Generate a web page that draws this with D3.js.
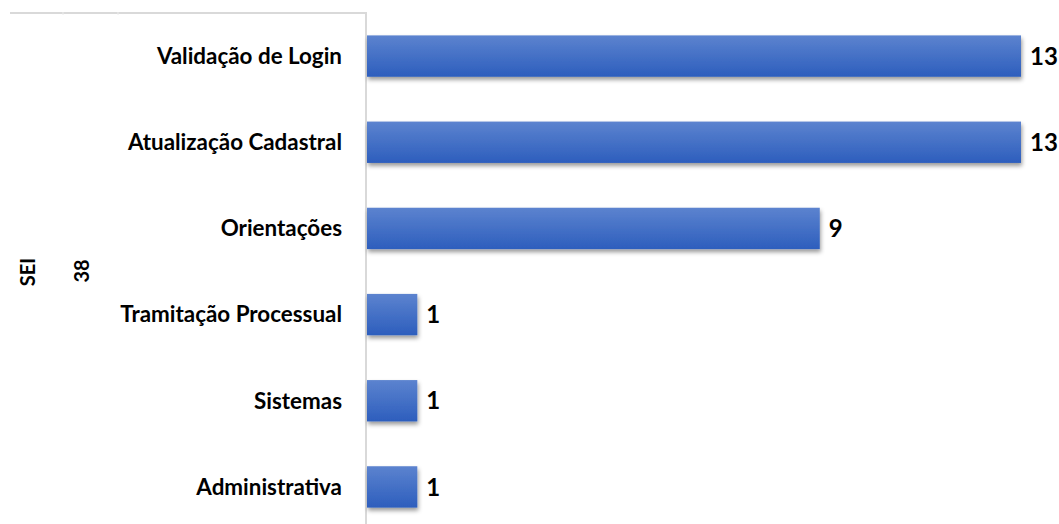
<!DOCTYPE html>
<html>
<head>
<meta charset="utf-8">
<script src="https://cdn.jsdelivr.net/npm/d3@7"></script>
<style>
  body { margin: 0; background: #fff; }
  svg text { font-family: Lato, "Open Sans", sans-serif; font-weight: bold; fill: #000; }
</style>
</head>
<body>
<div id="container"></div>
<script>
/* DATA */
const categories = ["Validação de Login", "Atualização Cadastral", "Orientações",
  "Tramitação Processual", "Sistemas", "Administrativa"];
const values = [13, 13, 9, 1, 1, 1];
const groupLabel = "SEI";
const groupTotal = "38";

/* CONSTANTS */
const width = 1059, height = 524;
const axisX = 366;

const svg = d3.select("#container").append("svg")
  .attr("width", width)
  .attr("height", height);

const xScale = d3.scaleLinear()
  .domain([0, 13])
  .range([axisX + 1, 1021]);

const yScale = d3.scaleBand()
  .domain(categories)
  .range([13, 530])
  .paddingInner(0.52)
  .paddingOuter(0.26);

// gradient + shadow for bars
const defs = svg.append("defs");
const grad = defs.append("linearGradient")
  .attr("id", "barGrad")
  .attr("x1", "0%").attr("x2", "0%")
  .attr("y1", "0%").attr("y2", "100%");
grad.append("stop").attr("offset", "0%").attr("stop-color", "#5c83cf");
grad.append("stop").attr("offset", "100%").attr("stop-color", "#2d5ebd");

const shadow = defs.append("filter").attr("id", "shadow")
  .attr("x", "-5%").attr("y", "-20%").attr("width", "115%").attr("height", "160%");
shadow.append("feDropShadow")
  .attr("dx", 1).attr("dy", 3).attr("stdDeviation", 2.2)
  .attr("flood-color", "#000").attr("flood-opacity", 0.4);

// frame lines
svg.append("line")
  .attr("x1", 10).attr("x2", axisX).attr("y1", 13).attr("y2", 13)
  .attr("stroke", "#d9d9d9").attr("stroke-width", 2);
[63, 118].forEach(x => svg.append("line")
  .attr("x1", x).attr("x2", x).attr("y1", 12).attr("y2", 15)
  .attr("stroke", "#ececec").attr("stroke-width", 1));
svg.append("line")
  .attr("x1", axisX).attr("x2", axisX).attr("y1", 12).attr("y2", height)
  .attr("stroke", "#d9d9d9").attr("stroke-width", 2);

// bars
svg.selectAll("rect.bar")
  .data(categories)
  .join("rect")
  .attr("class", "bar")
  .attr("x", xScale(0))
  .attr("y", d => yScale(d))
  .attr("width", (d, i) => xScale(values[i]) - xScale(0))
  .attr("height", yScale.bandwidth())
  .attr("fill", "url(#barGrad)")
  .attr("filter", "url(#shadow)");

// category labels
svg.selectAll("text.cat")
  .data(categories)
  .join("text")
  .attr("class", "cat")
  .attr("x", 342)
  .attr("y", d => yScale(d) + yScale.bandwidth() / 2)
  .attr("dy", "0.35em")
  .attr("text-anchor", "end")
  .style("font-size", "22.4px")
  .text(d => d);

// value labels
svg.selectAll("text.val")
  .data(categories)
  .join("text")
  .attr("class", "val")
  .attr("x", (d, i) => xScale(values[i]) + 9)
  .attr("y", d => yScale(d) + yScale.bandwidth() / 2)
  .attr("dy", "0.36em")
  .style("font-size", "24px")
  .text((d, i) => values[i]);

// group labels (rotated)
svg.append("text")
  .attr("transform", `translate(35, 272) rotate(-90)`)
  .attr("text-anchor", "middle")
  .style("font-size", "20px")
  .text(groupLabel);
svg.append("text")
  .attr("transform", `translate(89, 271) rotate(-90)`)
  .attr("text-anchor", "middle")
  .style("font-size", "20px")
  .text(groupTotal);
</script>
</body>
</html>
